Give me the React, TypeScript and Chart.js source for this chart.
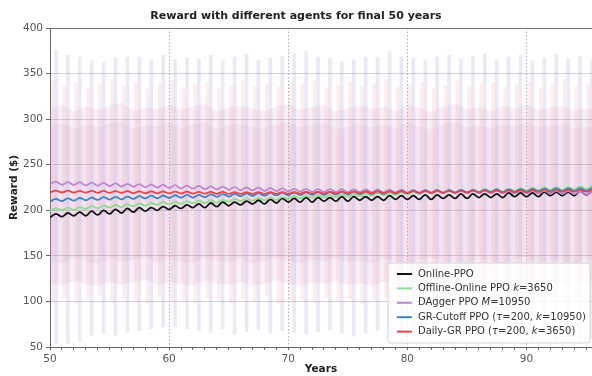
import { useEffect, useRef } from 'react';
import { Chart, registerables } from 'chart.js';
Chart.register(...registerables);

// ---- time axes ----
const halfYears = [
  50, 50.5, 51, 51.5, 52, 52.5, 53, 53.5, 54, 54.5, 55, 55.5, 56, 56.5, 57, 57.5, 58, 58.5, 59, 59.5,
  60, 60.5, 61, 61.5, 62, 62.5, 63, 63.5, 64, 64.5, 65, 65.5, 66, 66.5, 67, 67.5, 68, 68.5, 69, 69.5,
  70, 70.5, 71, 71.5, 72, 72.5, 73, 73.5, 74, 74.5, 75, 75.5, 76, 76.5, 77, 77.5, 78, 78.5, 79, 79.5,
  80, 80.5, 81, 81.5, 82, 82.5, 83, 83.5, 84, 84.5, 85, 85.5, 86, 86.5, 87, 87.5, 88, 88.5, 89, 89.5,
  90, 90.5, 91, 91.5, 92, 92.5, 93, 93.5, 94, 94.5, 95, 95.5,
];
const washYears = [
  50, 51, 52, 53, 54, 55, 56, 57, 58, 59, 60, 61, 62, 63, 64, 65, 66, 67, 68, 69, 70, 71, 72, 73,
  74, 75, 76, 77, 78, 79, 80, 81, 82, 83, 84, 85, 86, 87, 88, 89, 90, 91, 92, 93, 94, 95, 96,
];
const spikeYears = [
  50.5, 51.5, 52.5, 53.5, 54.5, 55.5, 56.5, 57.5, 58.5, 59.5, 60.5, 61.5, 62.5, 63.5, 64.5, 65.5,
  66.5, 67.5, 68.5, 69.5, 70.5, 71.5, 72.5, 73.5, 74.5, 75.5, 76.5, 77.5, 78.5, 79.5, 80.5, 81.5,
  82.5, 83.5, 84.5, 85.5, 86.5, 87.5, 88.5, 89.5, 90.5, 91.5, 92.5, 93.5, 94.5, 95.5,
];
const pinkSpikeYears = [
  50.2, 51.2, 52.2, 53.2, 54.2, 55.2, 56.2, 57.2, 58.2, 59.2, 60.2, 61.2, 62.2, 63.2, 64.2, 65.2,
  66.2, 67.2, 68.2, 69.2, 70.2, 71.2, 72.2, 73.2, 74.2, 75.2, 76.2, 77.2, 78.2, 79.2, 80.2, 81.2,
  82.2, 83.2, 84.2, 85.2, 86.2, 87.2, 88.2, 89.2, 90.2, 91.2, 92.2, 93.2, 94.2, 95.2,
];
const xMajorTicks = [60, 70, 80, 90];

// ---- mean reward series ----
const onlinePPO = [
  192, 196, 193, 197, 194, 198, 194, 199, 195, 200, 196, 201, 197, 202, 198, 203, 199, 203, 200, 204,
  201, 205, 202, 206, 203, 207, 203, 208, 204, 209, 205, 209, 206, 210, 207, 211, 207, 212, 208, 213,
  209, 213, 209, 214, 209, 214, 210, 214, 210, 215, 210, 215, 211, 215, 211, 215, 211, 216, 212, 216,
  212, 216, 212, 217, 212, 217, 213, 217, 213, 218, 213, 218, 214, 218, 214, 218, 214, 219, 215, 219,
  215, 219, 215, 220, 216, 220, 216, 220, 216, 221, 217, 221,
];
const offlineOnlinePPO = [
  199, 202, 200, 203, 200.5, 203.5, 201.5, 204.5, 202, 205, 203, 206, 203.5, 206.5, 204.5, 207.5, 205, 208, 206, 209,
  206.5, 209.5, 207, 210, 207.5, 210.5, 208, 211, 208.5, 211.5, 209.5, 212.5, 210, 213, 210.5, 213.5, 211, 214, 211.5, 214.5,
  212.5, 215.5, 213, 216, 213.5, 216.5, 214, 217, 214.5, 217.5, 215, 218, 215.5, 218.5, 216, 219, 216.5, 219.5, 217, 220,
  217.5, 220.5, 218, 221, 218.5, 221.5, 219, 222, 219, 222, 219.5, 222.5, 220, 223, 220.5, 223.5, 220.5, 223.5, 221, 224,
  221.5, 224.5, 222, 225, 222.5, 225.5, 222.5, 225.5, 223, 226, 223.5, 226.5,
];
const daggerPPO = [
  228.5, 231.5, 228, 231, 227.8, 230.8, 227.3, 230.3, 227, 230, 226.5, 229.5, 226, 229, 225.8, 228.8, 225.3, 228.3, 225, 228,
  224.5, 227.5, 224, 227, 223.8, 226.8, 223.3, 226.3, 223, 226, 222.5, 225.5, 222, 225, 221.8, 224.8, 221.3, 224.3, 221, 224,
  220.5, 223.5, 220.4, 223.4, 220.3, 223.3, 220.2, 223.2, 220.1, 223.1, 220, 223, 219.9, 222.9, 219.8, 222.8, 219.7, 222.7, 219.6, 222.6,
  219.5, 222.5, 219.4, 222.4, 219.3, 222.3, 219.2, 222.2, 219.1, 222.1, 219, 222, 218.9, 221.9, 218.8, 221.8, 218.7, 221.7, 218.6, 221.6,
  218.5, 221.5, 218.4, 221.4, 218.2, 221.2, 218, 221, 217.8, 220.8, 217.5, 220.5,
];
const grCutoffPPO = [
  209.5, 212.5, 210, 213, 210.5, 213.5, 211, 214, 211.5, 214.5, 211.7, 214.7, 212, 215, 212.5, 215.5, 213, 216, 213.2, 216.2,
  213.5, 216.5, 213.8, 216.8, 214, 217, 214.5, 217.5, 214.8, 217.8, 215, 218, 215.5, 218.5, 215.8, 218.8, 216, 219, 216.3, 219.3,
  216.5, 219.5, 216.7, 219.7, 217, 220, 217, 220, 217.3, 220.3, 217.5, 220.5, 217.7, 220.7, 218, 221, 218, 221, 218.3, 221.3,
  218.5, 221.5, 218.7, 221.7, 219, 222, 219, 222, 219.3, 222.3, 219.5, 222.5, 219.7, 222.7, 220, 223, 220, 223, 220.3, 223.3,
  220.5, 223.5, 220.7, 223.7, 221, 224, 221, 224, 221.2, 224.2, 221.5, 224.5,
];
const dailyGRPPO = [
  219.5, 221.5, 219.5, 221.5, 219.4, 221.4, 219.3, 221.3, 219.2, 221.2, 219, 221, 219, 221, 218.8, 220.8, 218.7, 220.7, 218.6, 220.6,
  218.5, 220.5, 218.4, 220.4, 218.3, 220.3, 218.2, 220.2, 218.1, 220.1, 218, 220, 218, 220, 218, 220, 218, 220, 218, 220,
  218, 220, 218.1, 220.1, 218.2, 220.2, 218.3, 220.3, 218.4, 220.4, 218.5, 220.5, 218.6, 220.6, 218.7, 220.7, 218.8, 220.8, 218.9, 220.9,
  219, 221, 219.1, 221.1, 219.2, 221.2, 219.3, 221.3, 219.4, 221.4, 219.5, 221.5, 219.6, 221.6, 219.7, 221.7, 219.8, 221.8, 219.9, 221.9,
  220, 222, 220.1, 222.1, 220.2, 222.2, 220.3, 222.3, 220.4, 222.4, 220.5, 222.5,
];

// ---- spread (std) shading ----
const washUpper = [
  312, 316, 308, 314, 310, 315, 318, 309, 313, 311, 316, 310, 314, 317, 308, 313, 315, 311, 309, 314,
  317, 310, 313, 316, 308, 312, 315, 311, 314, 309, 316, 312, 308, 314, 317, 311, 313, 309, 315, 312,
  316, 310, 313, 315, 309, 312, 311,
];
const washLower = [
  120, 117, 123, 119, 116, 122, 118, 121, 124, 118, 121, 119, 117, 123, 120, 118, 122, 117, 119, 123,
  120, 117, 121, 119, 123, 118, 120, 117, 122, 119, 116, 121, 123, 118, 120, 117, 122, 119, 116, 121,
  123, 118, 120, 119, 117, 121, 120,
];
const innerUpper = [
  292, 296, 289, 294, 291, 295, 297, 290, 293, 292, 296, 290, 294, 297, 289, 293, 295, 291, 290, 294,
  297, 291, 293, 296, 289, 292, 295, 291, 294, 290, 296, 292, 289, 294, 297, 291, 293, 290, 295, 292,
  296, 291, 293, 295, 290, 292, 291,
];
const innerLower = [
  145, 142, 148, 144, 141, 147, 143, 146, 149, 143, 146, 144, 142, 148, 145, 143, 147, 142, 144, 148,
  145, 142, 146, 144, 148, 143, 145, 142, 147, 144, 141, 146, 148, 143, 145, 142, 147, 144, 141, 146,
  148, 143, 145, 144, 142, 146, 145,
];
const spikeHigh = [
  376, 370, 368, 364, 362, 367, 368, 368, 365, 370, 365, 367, 366, 370, 364, 368, 371, 365, 367, 369,
  372, 374, 368, 367, 363, 365, 368, 368, 374, 368, 367, 365, 368, 370, 366, 369, 372, 365, 368, 370,
  364, 367, 371, 366, 369, 365,
];
const spikeLow = [
  54, 54, 57, 63, 65, 63, 66, 68, 70, 72, 72, 70, 68, 66, 70, 64, 67, 69, 65, 68,
  66, 64, 67, 69, 65, 62, 66, 68, 64, 63, 66, 60, 64, 62, 60, 63, 58, 62, 65, 60,
  57, 62, 59, 61, 56, 60,
];
const pinkHigh = [
  342, 336, 340, 334, 338, 344, 336, 340, 333, 339, 342, 335, 338, 341, 334, 337, 343, 336, 339, 335,
  340, 338, 342, 334, 337, 341, 336, 339, 344, 335, 338, 340, 333, 337, 342, 336, 339, 341, 335, 338,
  340, 334, 337, 343, 336, 339,
];
const pinkLow = [
  100, 104, 98, 102, 106, 99, 103, 101, 97, 105, 100, 102, 98, 104, 101, 99, 103, 100, 106, 98,
  102, 101, 99, 104, 100, 103, 97, 102, 105, 99, 101, 100, 104, 98, 102, 103, 99, 101, 105, 100,
  98, 102, 104, 99, 101, 100,
];

type Part = { t: string; i?: boolean };
const legendItems: { color: string; parts: Part[] }[] = [
  { color: '#111111', parts: [{ t: 'Online-PPO' }] },
  { color: '#8edc8e', parts: [{ t: 'Offline-Online PPO ' }, { t: 'k', i: true }, { t: '=3650' }] },
  { color: '#bd86d2', parts: [{ t: 'DAgger PPO ' }, { t: 'M', i: true }, { t: '=10950' }] },
  { color: '#3d84c4', parts: [{ t: 'GR-Cutoff PPO (' }, { t: 'τ', i: true }, { t: '=200, ' }, { t: 'k', i: true }, { t: '=10950)' }] },
  { color: '#e2474f', parts: [{ t: 'Daily-GR PPO (' }, { t: 'τ', i: true }, { t: '=200, ' }, { t: 'k', i: true }, { t: '=3650)' }] },
];

const FONT = '"DejaVu Sans", "Liberation Sans", sans-serif';

const frameGridPlugin = {
  id: 'frameGrid',
  beforeDatasetsDraw(chart: any) {
    const { ctx, chartArea, scales } = chart;
    ctx.save();
    ctx.strokeStyle = '#b0b0b0';
    ctx.lineWidth = 1;
    ctx.setLineDash([1.5, 2]);
    for (const v of xMajorTicks) {
      const x = Math.round(scales.x.getPixelForValue(v)) + 0.5;
      ctx.beginPath();
      ctx.moveTo(x, chartArea.top);
      ctx.lineTo(x, chartArea.bottom);
      ctx.stroke();
    }
    ctx.restore();
  },
  afterDraw(chart: any) {
    const { ctx, chartArea } = chart;
    ctx.save();
    ctx.strokeStyle = '#777';
    ctx.lineWidth = 1;
    ctx.beginPath();
    ctx.moveTo(chartArea.left, Math.round(chartArea.top) + 0.5);
    ctx.lineTo(chartArea.right, Math.round(chartArea.top) + 0.5);
    ctx.stroke();
    ctx.restore();
  },
};

const legendPlugin = {
  id: 'richLegend',
  afterDraw(chart: any) {
    const { ctx, chartArea } = chart;
    const size = 10;
    const normal = `${size}px ${FONT}`;
    const italic = `italic ${size}px ${FONT}`;
    ctx.save();
    const widths = legendItems.map((it) =>
      it.parts.reduce((w, p) => {
        ctx.font = p.i ? italic : normal;
        return w + ctx.measureText(p.t).width;
      }, 0)
    );
    const maxW = Math.max(...widths);
    const rowH = 14.4;
    const boxW = 30 + maxW + 4;
    const boxH = 80;
    const right = chartArea.right - 2;
    const bottom = chartArea.bottom - 4;
    const left = right - boxW;
    const top = bottom - boxH;
    const r = 3;
    ctx.beginPath();
    ctx.moveTo(left + r, top);
    ctx.lineTo(right - r, top);
    ctx.quadraticCurveTo(right, top, right, top + r);
    ctx.lineTo(right, bottom - r);
    ctx.quadraticCurveTo(right, bottom, right - r, bottom);
    ctx.lineTo(left + r, bottom);
    ctx.quadraticCurveTo(left, bottom, left, bottom - r);
    ctx.lineTo(left, top + r);
    ctx.quadraticCurveTo(left, top, left + r, top);
    ctx.closePath();
    ctx.fillStyle = 'rgba(255,255,255,0.82)';
    ctx.fill();
    ctx.strokeStyle = '#d4d4d4';
    ctx.lineWidth = 1;
    ctx.stroke();
    legendItems.forEach((it, i) => {
      const y = top + 11 + i * rowH;
      ctx.strokeStyle = it.color;
      ctx.lineWidth = 2;
      ctx.beginPath();
      ctx.moveTo(left + 9, y);
      ctx.lineTo(left + 24, y);
      ctx.stroke();
      let x = left + 30;
      ctx.fillStyle = '#333';
      ctx.textBaseline = 'middle';
      ctx.textAlign = 'left';
      for (const p of it.parts) {
        ctx.font = p.i ? italic : normal;
        ctx.fillText(p.t, x, y);
        x += ctx.measureText(p.t).width;
      }
    });
    ctx.restore();
  },
};

const pts = (xs: number[], ys: number[]) => xs.map((x, i) => ({ x, y: ys[i] }));
const bars = (xs: number[], lo: number[], hi: number[]) => xs.map((x, i) => ({ x, y: [lo[i], hi[i]] }));

export default function App() {
  const ref = useRef<HTMLCanvasElement>(null);
  useEffect(() => {
    document.body.style.margin = '0';
    const canvas = ref.current!;
    const lineDs = (label: string, data: number[], color: string, order: number) => ({
      type: 'line',
      label,
      data: pts(halfYears, data),
      borderColor: color,
      borderWidth: 1.8,
      pointRadius: 0,
      tension: 0.4,
      fill: false,
      order,
    });
    const band = (label: string, data: number[], fill: any, bg: string, order: number) => ({
      type: 'line',
      label,
      data: pts(washYears, data),
      borderWidth: 0,
      borderColor: 'rgba(0,0,0,0)',
      pointRadius: 0,
      backgroundColor: bg,
      fill,
      order,
    });
    const chart = new Chart(canvas, {
      type: 'line',
      data: {
        datasets: [
          lineDs('Online-PPO', onlinePPO, '#111111', 5),
          lineDs('Offline-Online PPO k=3650', offlineOnlinePPO, '#8edc8e', 4),
          lineDs('DAgger PPO M=10950', daggerPPO, '#bd86d2', 3),
          lineDs('GR-Cutoff PPO (τ=200, k=10950)', grCutoffPPO, '#3d84c4', 2),
          lineDs('Daily-GR PPO (τ=200, k=3650)', dailyGRPPO, '#e2474f', 1),
          band('spread upper', washUpper, '+1', 'rgba(210,145,195,0.15)', 20),
          band('spread lower', washLower, false, 'rgba(0,0,0,0)', 21),
          band('inner upper', innerUpper, '+1', 'rgba(205,140,190,0.12)', 18),
          band('inner lower', innerLower, false, 'rgba(0,0,0,0)', 19),
          {
            type: 'bar',
            label: 'spikes',
            data: bars(spikeYears, spikeLow, spikeHigh),
            backgroundColor: 'rgba(150,135,205,0.18)',
            borderWidth: 0,
            barThickness: 3,
            grouped: false,
            order: 10,
          },
          {
            type: 'bar',
            label: 'pink spikes',
            data: bars(pinkSpikeYears, pinkLow, pinkHigh),
            backgroundColor: 'rgba(240,130,145,0.14)',
            borderWidth: 0,
            barThickness: 3,
            grouped: false,
            order: 11,
          },
        ] as any,
      },
      options: {
        responsive: false,
        animation: false,
        events: [],
        layout: { padding: 0 },
        plugins: {
          legend: { display: false },
          tooltip: { enabled: false },
          title: {
            display: true,
            text: 'Reward with different agents for final 50 years',
            color: '#222',
            font: { family: FONT, size: 11, weight: 'bold' },
            padding: { top: 10, bottom: 4.8 },
          },
        },
        scales: {
          x: {
            type: 'linear',
            min: 50,
            max: 95.5,
            offset: false,
            ticks: {
              stepSize: 1,
              autoSkip: false,
              maxRotation: 0,
              includeBounds: false,
              color: '#555',
              padding: 3,
              font: { family: FONT, size: 10.5 },
              callback: (v: any) => (Number(v) % 10 === 0 ? String(v) : ''),
            },
            grid: { drawOnChartArea: false, drawTicks: true, tickLength: 3, tickColor: '#666', offset: false },
            border: { display: true, color: '#666' },
            title: {
              display: true,
              text: 'Years',
              color: '#222',
              font: { family: FONT, size: 10.5, weight: 'bold' },
              padding: { top: 0, bottom: 0 },
            },
            afterFit: (s: any) => {
              s.height = 29;
            },
          },
          y: {
            type: 'linear',
            min: 50,
            max: 400,
            beginAtZero: false,
            ticks: {
              stepSize: 50,
              color: '#555',
              padding: 3,
              font: { family: FONT, size: 10.5 },
            },
            grid: { color: '#d2d2d2', tickColor: '#666', tickLength: 4 },
            border: { display: true, color: '#666' },
            title: {
              display: true,
              text: 'Reward ($)',
              color: '#222',
              font: { family: FONT, size: 10.5, weight: 'bold' },
              padding: { top: 8, bottom: 0 },
            },
            afterFit: (s: any) => {
              s.width = 50;
            },
          },
        },
      } as any,
      plugins: [frameGridPlugin, legendPlugin],
    });
    return () => chart.destroy();
  }, []);
  return (
    <div style={{ width: 592, height: 376 }}>
      <canvas ref={ref} width={592} height={376} style={{ display: 'block' }} />
    </div>
  );
}
